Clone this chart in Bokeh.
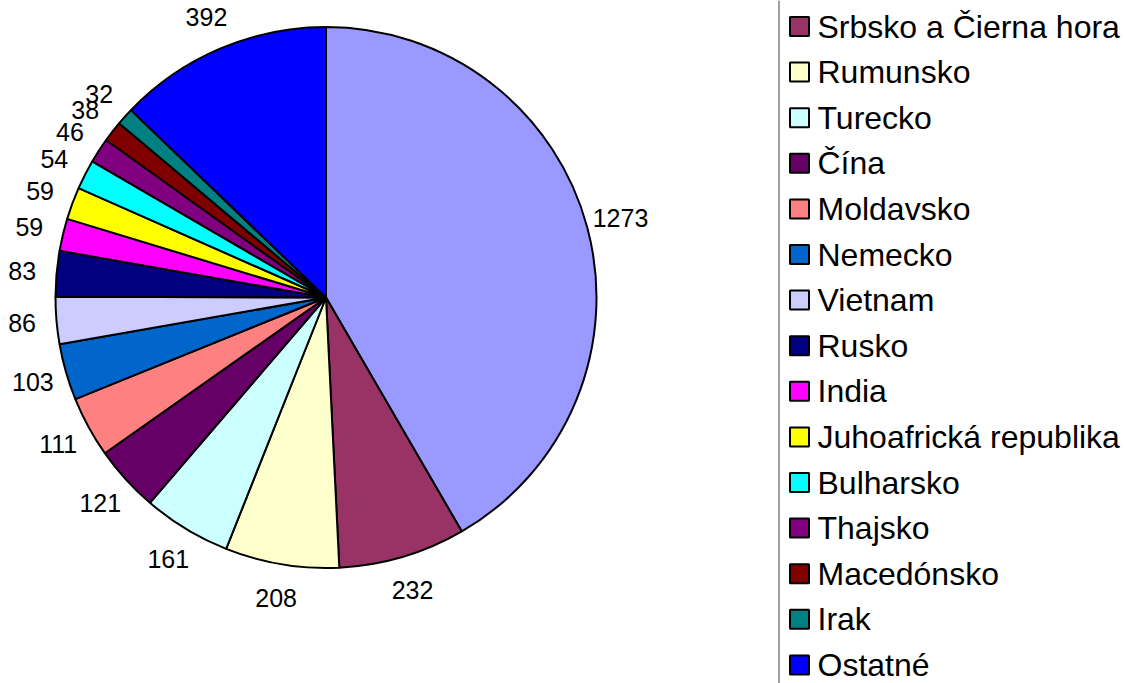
import numpy as np
from bokeh.plotting import figure
from bokeh.models import ColumnDataSource, Range1d
from bokeh.core.properties import value
from bokeh.embed import file_html
from bokeh.resources import INLINE

# data
countries = ["Ukrajina", "Srbsko a Čierna hora", "Rumunsko", "Turecko", "Čína", "Moldavsko",
             "Nemecko", "Vietnam", "Rusko", "India", "Juhoafrická republika",
             "Bulharsko", "Thajsko", "Macedónsko", "Irak", "Ostatné"]
counts = [1273, 232, 208, 161, 121, 111, 103, 86, 83, 59, 59, 54, 46, 38, 32, 392]
colors = ["#9999FF", "#993366", "#FFFFCC", "#CCFFFF", "#660066", "#FF8080",
          "#0066CC", "#CCCCFF", "#000080", "#FF00FF", "#FFFF00", "#00FFFF",
          "#800080", "#800000", "#008080", "#0000FF"]
# legend entries visible in the picture (first entry is cut off above)
legend_names = countries[1:]
legend_colors = colors[1:]

W, H = 1126, 683

def Y(ref_y):
    return H - ref_y

p = figure(width=W, height=H, output_backend="svg", toolbar_location=None,
           x_range=Range1d(0, W), y_range=Range1d(0, H),
           min_border=0)
p.axis.visible = False
p.grid.visible = False
p.outline_line_color = None
p.background_fill_color = "white"

cx, cy, r = 325.5, Y(297), 270.5
vals = np.array(counts, dtype=float)
frac_end = np.cumsum(vals) / vals.sum() * 2 * np.pi
frac_start = np.concatenate([[0], frac_end[:-1]])
start = np.pi / 2 - frac_end
end = np.pi / 2 - frac_start
mid = (frac_start + frac_end) / 2

src = ColumnDataSource(dict(start=start, end=end, color=colors))
p.wedge(x=cx, y=cy, radius=r, start_angle="start", end_angle="end",
        direction="anticlock", fill_color="color", line_color="black",
        line_width=2, source=src)

lr = 305
lx = cx + lr * np.sin(mid)
ly = cy + lr * np.cos(mid)
p.text(x=lx, y=ly, text=[str(c) for c in counts], text_font=value("Liberation Sans"),
       text_font_size="25px", text_align="center", text_baseline="middle",
       text_color="black")

# legend
p.segment(x0=[778.5], y0=[Y(0)], x1=[778.5], y1=[Y(683)], line_color="#808080", line_width=1.5)
n = len(legend_names)
ys = [Y(26 + 45.6 * i) for i in range(n)]
p.rect(x=[799] * n, y=ys, width=19, height=19, fill_color=legend_colors,
       line_color="black", line_width=2)
p.text(x=[817] * n, y=ys, text=legend_names, text_font=value("Liberation Sans"),
       text_font_size="32px", text_align="left", text_baseline="middle",
       text_color="black")

open("out.html", "w").write(file_html(p, INLINE))
